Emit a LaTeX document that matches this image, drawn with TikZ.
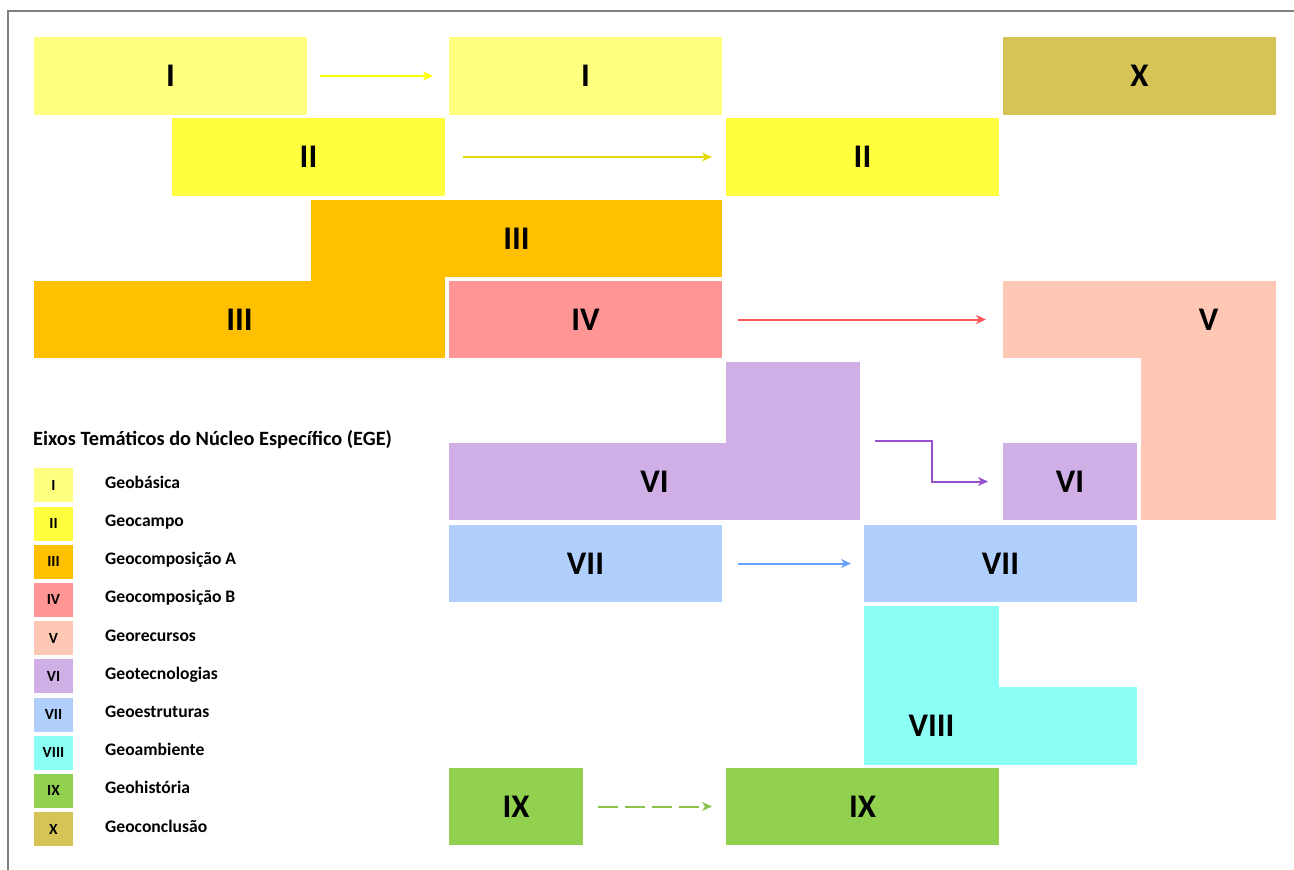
\documentclass[tikz,border=0pt]{standalone}
\usepackage{fontspec}
\setmainfont{Carlito}
\usetikzlibrary{arrows.meta}
\definecolor{cI}{RGB}{255,255,128}
\definecolor{cII}{RGB}{255,255,64}
\definecolor{cIII}{RGB}{255,192,0}
\definecolor{cIV}{RGB}{255,149,149}
\definecolor{cV}{RGB}{255,200,180}
\definecolor{cVI}{RGB}{207,175,230}
\definecolor{cVII}{RGB}{176,207,253}
\definecolor{cVIII}{RGB}{139,255,243}
\definecolor{cIX}{RGB}{146,208,80}
\definecolor{cX}{RGB}{215,196,87}
\definecolor{aI}{RGB}{255,255,0}
\definecolor{aII}{RGB}{228,218,0}
\definecolor{aIV}{RGB}{255,87,87}
\definecolor{aVI}{RGB}{153,80,204}
\definecolor{aVII}{RGB}{102,163,255}
\definecolor{aIX}{RGB}{140,195,75}

\begin{document}
\begin{tikzpicture}[x=1pt,y=-1pt]
	\tikzstyle{cell} = [inner sep=0, outer sep=0, minimum height=77.5pt, font=\fontsize{33}{36}\selectfont\bfseries]
	\tikzstyle{key} = [inner sep=0, minimum width=39pt, minimum height=34pt, font=\fontsize{15.5}{17}\selectfont\bfseries]
	\tikzstyle{keytext} = [anchor=base west, inner sep=0, font=\fontsize{17.6}{20}\selectfont\bfseries]
	\tikzstyle{edge} = [line width=2pt, -{Stealth[length=10pt,width=9pt,inset=3pt]}]
	\useasboundingbox (0,0) rectangle (1294,870);
	\draw[gray, line width=2pt] (8,870) -- (8,11) -- (1294,11);

		% the semesters
		\node[cell, fill=cI, minimum width=273pt] (Ia) at (170.5,76) {I};
		\node[cell, fill=cI, minimum width=273pt] (Ib) at (585.5,76) {I};
		\node[cell, fill=cX, minimum width=273pt] (X) at (1139.5,76) {X};
		\node[cell, fill=cII, minimum width=273pt] (IIa) at (308.5,157) {II};
		\node[cell, fill=cII, minimum width=273pt] (IIb) at (862.5,157) {II};
		\node[cell, fill=cIII, minimum width=411pt] (IIIa) at (516.5,238.5) {III};
		\node[cell, fill=cIII, minimum width=411pt] (IIIb) at (239.5,319.5) {III};
		\fill[cIII] (IIIa.south west) rectangle (IIIb.north east);
		\node[cell, fill=cIV, minimum width=273pt] (IV) at (585.5,319.5) {IV};
		\node[cell, fill=cV, minimum width=135pt, minimum height=239pt] (Vbar) at (1208.5,400.5) {};
		\node[cell, fill=cV, minimum width=273pt] (Vtop) at (1139.5,319.5) {};
		\node[cell] (V) at (Vbar |- Vtop) {V};
		\node[cell, fill=cVI, minimum width=134pt, minimum height=158pt] (VIbar) at (793,441) {};
		\node[cell, fill=cVI, minimum width=411pt] (VIa) at (654.5,481.5) {VI};
		\node[cell, fill=cVI, minimum width=134pt] (VIb) at (1070,481.5) {VI};
		\node[cell, fill=cVII, minimum width=273pt] (VIIa) at (585.5,563.5) {VII};
		\node[cell, fill=cVII, minimum width=273pt] (VIIb) at (1000.5,563.5) {VII};
		\node[cell, fill=cVIII, minimum width=135pt, minimum height=159pt] (VIIIbar) at (931.5,685.5) {};
		\node[cell, fill=cVIII, minimum width=273pt] (VIIIa) at (1000.5,726) {};
		\node[cell] (VIII) at (VIIIbar |- VIIIa) {VIII};
		\node[cell, fill=cIX, minimum width=134pt] (IXa) at (516,806.5) {IX};
		\node[cell, fill=cIX, minimum width=273pt] (IXb) at (862.5,806.5) {IX};

		\draw[edge, aI, shorten <=13pt, shorten >=16pt] (Ia) -- (Ib);
		\draw[edge, aII, shorten <=18pt, shorten >=14pt] (IIa) -- (IIb);
		\draw[edge, aIV, shorten <=16pt, shorten >=17pt] (IV) -- (Vtop);
		\draw[edge, aVI] ([xshift=15pt]VIbar.east) -- ++(57,0) |- ([xshift=-15pt]VIb.west);
		\draw[edge, aVII, shorten <=16pt, shorten >=13pt] (VIIa) -- (VIIb);
		\draw[edge, aIX, dash pattern=on 20pt off 7pt, shorten <=15pt, shorten >=14pt] (IXa) -- (IXb);

		% legend
		\node[anchor=base west, inner sep=0, font=\fontsize{20.3}{23}\selectfont\bfseries] (title) at (33,445) {Eixos Temáticos do Núcleo Específico (EGE)};
		\node[key, fill=cI] (kI) at (53.5,485.3) {I};
		\node[key, fill=cII] (kII) at (53.5,523.5) {II};
		\node[key, fill=cIII] (kIII) at (53.5,561.7) {III};
		\node[key, fill=cIV] (kIV) at (53.5,599.9) {IV};
		\node[key, fill=cV] (kV) at (53.5,638.1) {V};
		\node[key, fill=cVI] (kVI) at (53.5,676.3) {VI};
		\node[key, fill=cVII] (kVII) at (53.5,714.5) {VII};
		\node[key, fill=cVIII] (kVIII) at (53.5,752.7) {VIII};
		\node[key, fill=cIX] (kIX) at (53.5,790.9) {IX};
		\node[key, fill=cX] (kX) at (53.5,829.1) {X};
		\node[keytext] (tI) at (105,488.3) {Geobásica};
		\node[keytext] (tII) at (105,526.5) {Geocampo};
		\node[keytext] (tIII) at (105,564.7) {Geocomposição A};
		\node[keytext] (tIV) at (105,602.9) {Geocomposição B};
		\node[keytext] (tV) at (105,641.1) {Georecursos};
		\node[keytext] (tVI) at (105,679.3) {Geotecnologias};
		\node[keytext] (tVII) at (105,717.5) {Geoestruturas};
		\node[keytext] (tVIII) at (105,755.7) {Geoambiente};
		\node[keytext] (tIX) at (105,793.9) {Geohistória};
		\node[keytext] (tX) at (105,832.1) {Geoconclusão};
	\end{tikzpicture}
\end{document}
